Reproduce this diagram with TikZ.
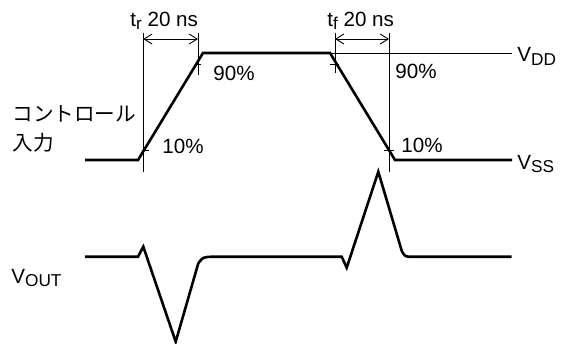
\documentclass[tikz,border=0pt]{standalone}
\usepackage{fontspec}
\setmainfont{Liberation Sans}
\newfontfamily\jpfont{Noto Sans CJK JP}
\usetikzlibrary{arrows.meta}
\newcommand\lowsub[1]{\raisebox{-1.7pt}{\fontsize{8.6}{9}\selectfont #1}}

\begin{document}
\begin{tikzpicture}[x=0.5pt,y=-0.5pt,font=\fontsize{10.3}{12}\selectfont,
  sig/.style={line width=1.3pt,line join=miter},
  guide/.style={line width=0.45pt},
  dimarrow/.style={guide,{Straight Barb[length=4pt,width=5pt]}-{Straight Barb[length=4pt,width=5pt]}},
  lbl/.style={inner sep=0pt}]
\useasboundingbox (0,0) rectangle (561,343);
% key points of the input and output waveforms
\coordinate (inL) at (85,160); \coordinate (r0) at (138,160); \coordinate (r1) at (203,53);
\coordinate (f0) at (330,53); \coordinate (f1) at (395,160); \coordinate (inR) at (512,160);
\coordinate (vddR) at (512,53);
% input
\draw[sig] (inL) -- (r0) -- (r1) -- (f0) -- (f1) -- (inR);
\draw[guide] (f0) -- (vddR);
% output
\draw[sig] (85,256.7) -- (138,256.7) -- (143.3,246.7) -- (175.7,341.7) -- (198.3,263.3)
  .. controls (203,257) .. (213.3,256.7) -- (341.7,256.7) -- (346.7,267.7) -- (378.3,171.7)
  -- (401.7,250.7) .. controls (405,257) .. (415,256.7) -- (511.7,256.7);
% guides and ticks
\coordinate (g1t) at (143.3,33); \coordinate (g1b) at (143.3,172);
\coordinate (g2t) at (198,33);   \coordinate (g2b) at (198,75);
\coordinate (g3t) at (335,33);   \coordinate (g3b) at (335,73);
\coordinate (g4t) at (389,33);   \coordinate (g4b) at (389,172);
\foreach \a/\b in {g1t/g1b,g2t/g2b,g3t/g3b,g4t/g4b} \draw[guide] (\a) -- (\b);
\draw[guide] (141.7,150) -- (149,150) (195,64) -- (201,64) (330,64) -- (339,64) (384,150) -- (394,150);
\draw[dimarrow] (143.3,39) -- (198,39);
\draw[dimarrow] (335,39) -- (389,39);
% labels
\node[lbl,anchor=base west] (tr) at (130,26) {t\lowsub{r} 20 ns};
\node[lbl,anchor=base west] (tf) at (327,26) {t\lowsub{f} 20 ns};
\node[lbl,anchor=base west] (p90a) at (213,80) {90\%};
\node[lbl,anchor=base west] (p90b) at (395,78) {90\%};
\node[lbl,anchor=base west] (p10a) at (162,153) {10\%};
\node[lbl,anchor=base west] (p10b) at (401,152) {10\%};
\node[lbl,anchor=base west] (vdd) at (517,61.7) {V\lowsub{DD}};
\node[lbl,anchor=base west] (vss) at (517,169.3) {V\lowsub{SS}};
\node[lbl,anchor=base west] (vout) at (11,283) {V\lowsub{OUT}};
\node[lbl,anchor=west] (ctl) at (12,114) {\jpfont コントロール};
\node[lbl,anchor=west] (inp) at (12,143) {\jpfont 入力};
\end{tikzpicture}
\end{document}
